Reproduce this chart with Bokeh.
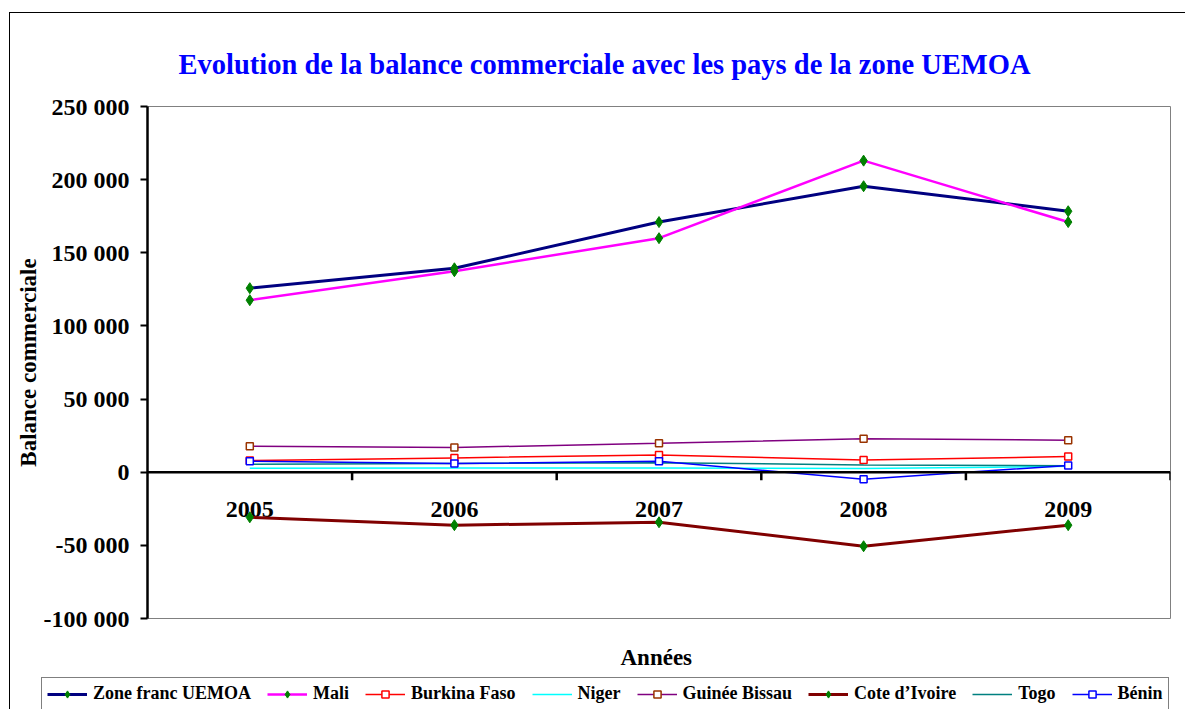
from bokeh.plotting import figure
from bokeh.models import (Range1d, FixedTicker, LinearAxis, Legend, LegendItem, Span, Title)
from bokeh.core.properties import value
from bokeh.embed import file_html
from bokeh.resources import INLINE

years = [2005, 2006, 2007, 2008, 2009]
year_labels = ["2005", "2006", "2007", "2008", "2009"]

zone_franc = [125800, 139400, 171000, 195500, 178400]
mali = [117600, 137400, 160000, 213000, 171000]
burkina = [8000, 9800, 11800, 8400, 10700]
niger = [2700, 2800, 2900, 2500, 4000]
guinee = [17800, 16900, 19800, 22800, 21900]
cote = [-30800, -36200, -34200, -50600, -36200]
togo = [5500, 6000, 6500, 5000, 4500]
benin = [7500, 5900, 7500, -4800, 4600]

y_ticks = [-100000, -50000, 0, 50000, 100000, 150000, 200000, 250000]
y_tick_labels = ["-100 000", "-50 000", "0", "50 000", "100 000", "150 000", "200 000", "250 000"]

FONT = "Liberation Serif"
W = 1176

p = figure(width=W, height=619, output_backend="svg", toolbar_location=None,
           x_range=Range1d(2004.5, 2009.5), y_range=Range1d(-100000, 250000),
           min_border_left=137, min_border_right=16, min_border_top=93, min_border_bottom=14,
           x_axis_location=None, y_axis_location=None,
           title="Evolution de la balance commerciale avec les pays de la zone UEMOA")
p.styles = {"margin-left": "9px", "margin-top": "12px",
            "border-left": "1.5px solid black", "border-top": "1.5px solid black"}

p.title.text_font = FONT
p.title.text_font_size = "28.5px"
p.title.text_font_style = "bold"
p.title.text_color = "#0000FF"
p.title.align = "left"
p.title.offset = 31
p.title.standoff = 54

p.xgrid.visible = False
p.ygrid.visible = False
p.outline_line_color = "#808080"
p.outline_line_width = 1
p.background_fill_color = "white"
p.border_fill_color = "white"

# y axis
yaxis = LinearAxis(ticker=FixedTicker(ticks=y_ticks),
                   major_label_overrides={t: l for t, l in zip(y_ticks, y_tick_labels)})
yaxis.axis_label = "Balance commerciale"
yaxis.axis_label_text_font = FONT
yaxis.axis_label_text_font_size = "23px"
yaxis.axis_label_text_font_style = "bold"
yaxis.axis_label_text_color = "black"
yaxis.axis_label_standoff = 0
yaxis.major_label_text_font = FONT
yaxis.major_label_text_font_size = "24px"
yaxis.major_label_text_font_style = "bold"
yaxis.major_label_text_color = "black"
yaxis.major_label_standoff = 11
yaxis.major_tick_out = 7
yaxis.major_tick_in = 0
yaxis.minor_tick_line_color = None
yaxis.axis_line_width = 2.5
yaxis.major_tick_line_width = 2
p.add_layout(yaxis, "left")

# zero line and category boundary ticks
p.add_layout(Span(location=0, dimension="width", line_color="black", line_width=2.5))
bounds = [y + 0.5 for y in years]
tick_depth = (p.y_range.end - p.y_range.start) * 0.0157
p.segment(x0=bounds, x1=bounds, y0=[0] * len(bounds), y1=[-tick_depth] * len(bounds),
          line_color="black", line_width=2.5)

# year labels on the zero axis
p.text(x=years, y=[0] * len(years), text=year_labels, y_offset=37,
       text_font=value(FONT), text_font_size="24px", text_font_style="bold",
       text_align="center", text_baseline="middle", text_color="black")

# lower strip: x-axis title and legend (its renderers fall outside its ranges)
lf = figure(width=W, height=78, output_backend="svg", toolbar_location=None,
            x_range=Range1d(0, 1), y_range=Range1d(0, 1),
            min_border_left=31, min_border_right=0, min_border_top=46, min_border_bottom=0,
            x_axis_location=None, y_axis_location=None)
lf.styles = {"margin-left": "9px", "border-left": "1.5px solid black"}
lf.xgrid.visible = False
lf.ygrid.visible = False
lf.outline_line_color = None
lf.border_fill_color = "white"
lf.background_fill_color = "white"

xtitle = Title(text="Années", align="left", offset=579, text_font=FONT, text_font_size="23px",
               text_font_style="bold", text_color="black", standoff=16)
lf.add_layout(xtitle, "above")

items = []

def series(name, vals, color, width, marker=None, mcolor=None, msize=None, fill=True):
    rs, ls = [], []
    for fig, store in ((p, rs), (lf, ls)):
        store.append(fig.line(years, vals, line_color=color, line_width=width))
        if marker:
            if fill:
                store.append(fig.scatter(years, vals, marker=marker, size=msize,
                                         fill_color=mcolor, line_color=mcolor))
            else:
                store.append(fig.scatter(years, vals, marker=marker, size=msize,
                                         fill_color="white", line_color=mcolor, line_width=1.5))
    items.append(LegendItem(label=name, renderers=ls))

series("Zone franc UEMOA", zone_franc, "#000080", 3, "diamond", "#008000", 11)
series("Mali", mali, "#FF00FF", 2.5, "diamond", "#008000", 11)
series("Burkina Faso", burkina, "#FF0000", 1.5, "square", "#FF0000", 7, fill=False)
series("Niger", niger, "#00FFFF", 1.5)
series("Guinée Bissau", guinee, "#800080", 1.5, "square", "#993300", 7, fill=False)
series("Cote d’Ivoire", cote, "#800000", 3, "diamond", "#008000", 11)
series("Togo", togo, "#008080", 1.5)
series("Bénin", benin, "#0000FF", 1.5, "square", "#0000FF", 7, fill=False)

legend = Legend(items=items, orientation="horizontal", location="top_left")
legend.label_text_font = FONT
legend.label_text_font_size = "18px"
legend.label_text_font_style = "bold"
legend.label_text_color = "black"
legend.glyph_width = 40
legend.glyph_height = 18
legend.label_standoff = 6
legend.spacing = 16
legend.padding = 5
legend.margin = 0
legend.border_line_color = "black"
legend.border_line_width = 1.5
legend.background_fill_color = "white"
legend.background_fill_alpha = 1
lf.add_layout(legend)

open("out.html", "w").write(file_html([p, lf], INLINE))
